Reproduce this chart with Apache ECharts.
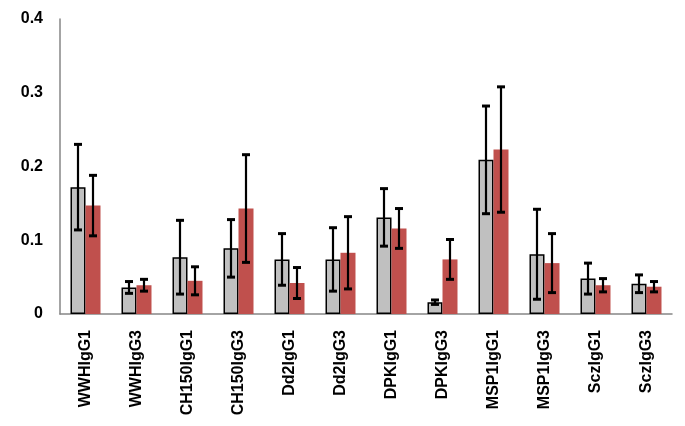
<!DOCTYPE html>
<html><head><meta charset="utf-8">
<script src="https://cdn.jsdelivr.net/npm/echarts@6/dist/echarts.min.js"></script>
<style>html,body{margin:0;padding:0;background:#fff}#c{width:685px;height:426px}</style>
</head><body><div id="c"></div>
<script>
const categories = ['WWHIgG1','WWHIgG3','CH150IgG1','CH150IgG3','Dd2IgG1','Dd2IgG3','DPKIgG1','DPKIgG3','MSP1IgG1','MSP1IgG3','SczIgG1','SczIgG3'];
const grayValues = [0.172, 0.036, 0.077, 0.089, 0.074, 0.074, 0.131, 0.016, 0.209, 0.081, 0.048, 0.041];
const grayErrors = [0.058, 0.008, 0.050, 0.039, 0.035, 0.043, 0.039, 0.003, 0.073, 0.061, 0.021, 0.012];
const redValues  = [0.147, 0.039, 0.045, 0.143, 0.042, 0.083, 0.116, 0.074, 0.223, 0.069, 0.039, 0.037];
const redErrors  = [0.041, 0.008, 0.019, 0.073, 0.021, 0.049, 0.027, 0.027, 0.085, 0.040, 0.009, 0.007];
const yTicks = [0, 0.1, 0.2, 0.3, 0.4];

const BAR_W = 15;
function errSeries(vals, errs, offset) {
  return {
    type: 'custom', z: 10,
    data: vals.map((v, i) => [i, v - errs[i], v + errs[i]]),
    renderItem: function (params, api) {
      const lo = api.coord([api.value(0), api.value(1)]);
      const hi = api.coord([api.value(0), api.value(2)]);
      const x = lo[0] + offset;
      const cap = 4;
      const st = {stroke: '#000', lineWidth: 2.2};
      const cs = {stroke: '#000', lineWidth: 3};
      return {type: 'group', children: [
        {type: 'line', shape: {x1: x, y1: hi[1], x2: x, y2: lo[1]}, style: st},
        {type: 'line', shape: {x1: x - cap, y1: hi[1], x2: x + cap, y2: hi[1]}, style: cs},
        {type: 'line', shape: {x1: x - cap, y1: lo[1], x2: x + cap, y2: lo[1]}, style: cs}
      ]};
    }
  };
}
const chart = echarts.init(document.getElementById('c'), null, {renderer: 'canvas'});
chart.setOption({
  animation: false,
  grid: {left: 60, right: 13, top: 19, bottom: 112},
  xAxis: {
    type: 'category', data: categories,
    axisLine: {lineStyle: {color: '#868686', width: 1.5}},
    axisTick: {show: false},
    axisLabel: {rotate: 90, interval: 0, color: '#000', fontWeight: 'bold', fontSize: 16,
      fontFamily: 'Liberation Sans', margin: 16}
  },
  yAxis: {
    type: 'value', min: 0, max: 0.4, interval: 0.1,
    axisLine: {show: true, lineStyle: {color: '#868686', width: 1.5}},
    axisTick: {show: false}, splitLine: {show: false},
    axisLabel: {color: '#000', fontWeight: 'bold', fontSize: 16, fontFamily: 'Liberation Sans', margin: 17,
      formatter: v => { const r = Math.round(v*10)/10; return yTicks.includes(r) ? String(r) : ''; }}
  },
  series: [
    {type: 'bar', data: grayValues, barWidth: BAR_W, barGap: '0%',
     itemStyle: {color: '#C0C0C0', borderColor: '#000', borderWidth: 1.5}},
    {type: 'bar', data: redValues, barWidth: BAR_W, barGap: '0%',
     itemStyle: {color: '#C0504D'}},
    errSeries(grayValues, grayErrors, -BAR_W/2),
    errSeries(redValues, redErrors, BAR_W/2)
  ]
});
</script>
</body></html>
